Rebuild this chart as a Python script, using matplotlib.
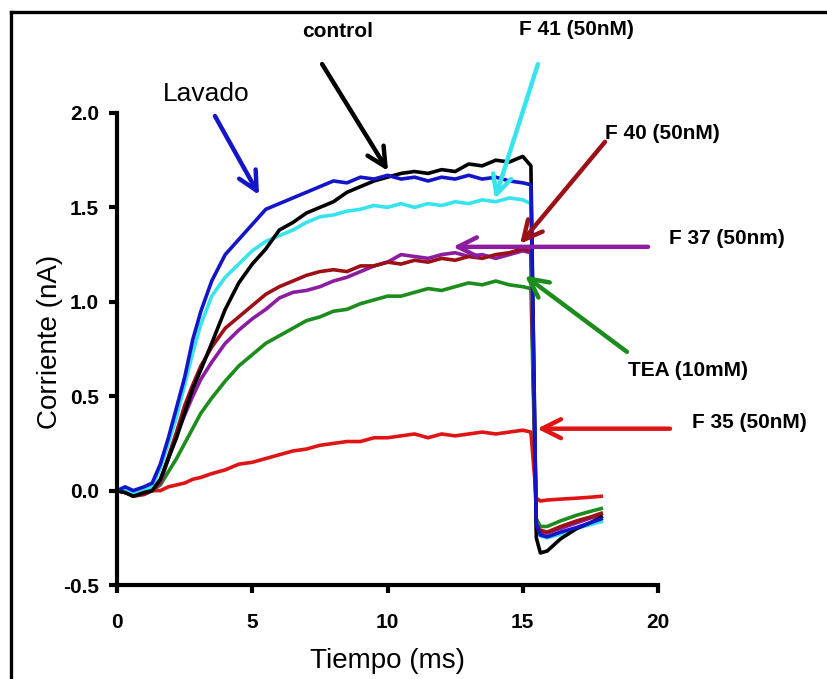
import matplotlib
matplotlib.use("Agg")
import matplotlib.pyplot as plt
from matplotlib.lines import Line2D

plt.rcParams['font.family'] = ['Liberation Sans', 'DejaVu Sans']
plt.rcParams['axes.unicode_minus'] = False

# time grid (ms)
t = [0, 0.3, 0.6, 1.0, 1.3, 1.6, 1.9, 2.2, 2.5, 2.8, 3.1, 3.5, 4.0, 4.5, 5.0, 5.5,
     6.0, 6.5, 7.0, 7.5, 8.0, 8.5, 9.0, 9.5, 10.0, 10.5, 11.0, 11.5, 12.0, 12.5,
     13.0, 13.5, 14.0, 14.5, 15.0, 15.3, 15.5, 15.65, 15.9, 16.4, 17.0, 17.5, 17.9]

# currents (nA)
lavado = [0.0, 0.02, 0.0, 0.02, 0.04, 0.14, 0.28, 0.44, 0.60, 0.80, 0.95, 1.11, 1.25, 1.33, 1.41, 1.49,
          1.52, 1.55, 1.58, 1.61, 1.64, 1.63, 1.66, 1.65, 1.67, 1.65, 1.66, 1.64, 1.66, 1.65,
          1.67, 1.65, 1.66, 1.64, 1.63, 1.62, -0.18, -0.235, -0.245, -0.22, -0.195, -0.17, -0.15]
control = [0.0, -0.01, -0.03, -0.01, 0.0, 0.06, 0.17, 0.28, 0.41, 0.54, 0.64, 0.78, 0.96, 1.10, 1.20, 1.28,
           1.38, 1.42, 1.47, 1.50, 1.53, 1.58, 1.61, 1.64, 1.66, 1.68, 1.69, 1.68, 1.70, 1.69,
           1.73, 1.72, 1.75, 1.74, 1.77, 1.72, -0.25, -0.33, -0.32, -0.255, -0.20, -0.17, -0.14]
f41 = [0.0, 0.0, -0.02, 0.0, 0.02, 0.12, 0.25, 0.39, 0.56, 0.73, 0.88, 1.03, 1.13, 1.20, 1.27, 1.32,
       1.35, 1.38, 1.42, 1.45, 1.46, 1.48, 1.49, 1.51, 1.50, 1.52, 1.50, 1.52, 1.51, 1.53,
       1.52, 1.54, 1.53, 1.55, 1.54, 1.52, -0.20, -0.24, -0.25, -0.23, -0.20, -0.18, -0.165]
f40 = [0.0, -0.01, -0.03, -0.02, 0.0, 0.05, 0.18, 0.31, 0.45, 0.56, 0.66, 0.76, 0.86, 0.92, 0.98, 1.04,
       1.08, 1.11, 1.14, 1.16, 1.17, 1.16, 1.19, 1.19, 1.21, 1.20, 1.22, 1.21, 1.23, 1.22,
       1.24, 1.23, 1.25, 1.26, 1.28, 1.27, -0.18, -0.21, -0.22, -0.19, -0.16, -0.14, -0.12]
f37 = [0.0, -0.01, -0.02, -0.02, 0.0, 0.04, 0.17, 0.30, 0.40, 0.50, 0.59, 0.68, 0.78, 0.85, 0.91, 0.96,
       1.02, 1.05, 1.06, 1.08, 1.11, 1.13, 1.16, 1.19, 1.21, 1.25, 1.24, 1.23, 1.25, 1.26,
       1.24, 1.25, 1.23, 1.25, 1.27, 1.26, -0.18, -0.22, -0.225, -0.20, -0.17, -0.145, -0.125]
tea = [0.0, -0.01, -0.02, -0.01, 0.0, 0.03, 0.10, 0.17, 0.25, 0.33, 0.41, 0.49, 0.58, 0.66, 0.72, 0.78,
       0.82, 0.86, 0.90, 0.92, 0.95, 0.96, 0.99, 1.01, 1.03, 1.03, 1.05, 1.07, 1.06, 1.08,
       1.10, 1.09, 1.11, 1.09, 1.08, 1.07, -0.15, -0.19, -0.19, -0.16, -0.13, -0.11, -0.095]
f35 = [0.0, -0.01, -0.02, -0.01, 0.0, 0.0, 0.02, 0.03, 0.04, 0.06, 0.07, 0.09, 0.11, 0.14, 0.15, 0.17,
       0.19, 0.21, 0.22, 0.24, 0.25, 0.26, 0.26, 0.28, 0.28, 0.29, 0.30, 0.28, 0.30, 0.29,
       0.30, 0.31, 0.30, 0.31, 0.32, 0.31, -0.04, -0.055, -0.05, -0.045, -0.04, -0.035, -0.03]

xticks = [0, 5, 10, 15, 20]
yticks = [-0.5, 0.0, 0.5, 1.0, 1.5, 2.0]

C_BLUE = '#1414c8'
C_BLACK = '#000000'
C_CYAN = '#38e4ec'
C_DRED = '#9c1016'
C_PURPLE = '#8c1ca0'
C_GREEN = '#1c8c1c'
C_RED = '#e01414'

fig = plt.figure(figsize=(8.27, 6.79), dpi=100)
ax = fig.add_axes([0.1415, 0.1384, 0.6542, 0.6952])

series = [
    (f35, C_RED), (tea, C_GREEN), (f37, C_PURPLE), (f40, C_DRED),
    (f41, C_CYAN), (control, C_BLACK), (lavado, C_BLUE),
]
for y, c in series:
    ax.plot(t, y, color=c, lw=2.6, solid_joinstyle='round')

ax.set_xlim(0, 20)
ax.set_ylim(-0.5, 2.0)
ax.set_xticks(xticks)
ax.set_xticklabels([str(v) for v in xticks])
ax.set_yticks(yticks)
ax.set_yticklabels(['%.1f' % v for v in yticks])
for s in ['top', 'right']:
    ax.spines[s].set_visible(False)
for s in ['left', 'bottom']:
    ax.spines[s].set_linewidth(3)
ax.tick_params(axis='both', direction='out', length=6, width=3, labelsize=15)
ax.tick_params(axis='y', pad=7)
ax.tick_params(axis='x', pad=14)
for lab in ax.get_xticklabels() + ax.get_yticklabels():
    lab.set_fontweight('bold')

ax.set_xlabel('Tiempo (ms)', fontsize=20, labelpad=12)
ax.set_ylabel('Corriente (nA)', fontsize=20, labelpad=0, y=0.515)

# annotations
def arrow(tip, tail, color):
    ax.annotate('', xy=tip, xytext=tail, annotation_clip=False,
                arrowprops=dict(arrowstyle='->', color=color, lw=3.2,
                                mutation_scale=34, shrinkA=0, shrinkB=0))

arrow((5.25, 1.566), (3.62, 1.984), C_BLUE)
arrow((10.02, 1.693), (7.58, 2.259), C_BLACK)
arrow((13.97, 1.545), (15.56, 2.259), C_CYAN)
arrow((14.90, 1.307), (18.04, 1.847), C_DRED)
arrow((12.42, 1.291), (19.63, 1.291), C_PURPLE)
arrow((15.08, 1.138), (18.85, 0.735), C_GREEN)
arrow((15.53, 0.328), (20.44, 0.328), C_RED)

txt = dict(ha='center', va='center', fontsize=15, fontweight='bold', clip_on=False)
ax.text(3.29, 2.10, 'Lavado', ha='center', va='center', fontsize=19, clip_on=False)
ax.text(8.17, 2.43, 'control', **txt)
ax.text(16.97, 2.44, 'F 41 (50nM)', **txt)
ax.text(20.15, 1.89, 'F 40 (50nM)', **txt)
ax.text(22.55, 1.333, 'F 37 (50nm)', **txt)
ax.text(21.11, 0.635, 'TEA (10mM)', **txt)
ax.text(23.36, 0.36, 'F 35 (50nM)', **txt)

# frame lines (top and left) of the figure
W, H = 827, 679
fig.add_artist(Line2D([10.5 / W, 1.0], [1 - 11.5 / H, 1 - 11.5 / H], color='black', lw=2.4,
                      transform=fig.transFigure))
fig.add_artist(Line2D([10.5 / W, 10.5 / W], [0.0, 1 - 11.5 / H], color='black', lw=2.4,
                      transform=fig.transFigure))

fig.savefig('out.png', dpi=100)
